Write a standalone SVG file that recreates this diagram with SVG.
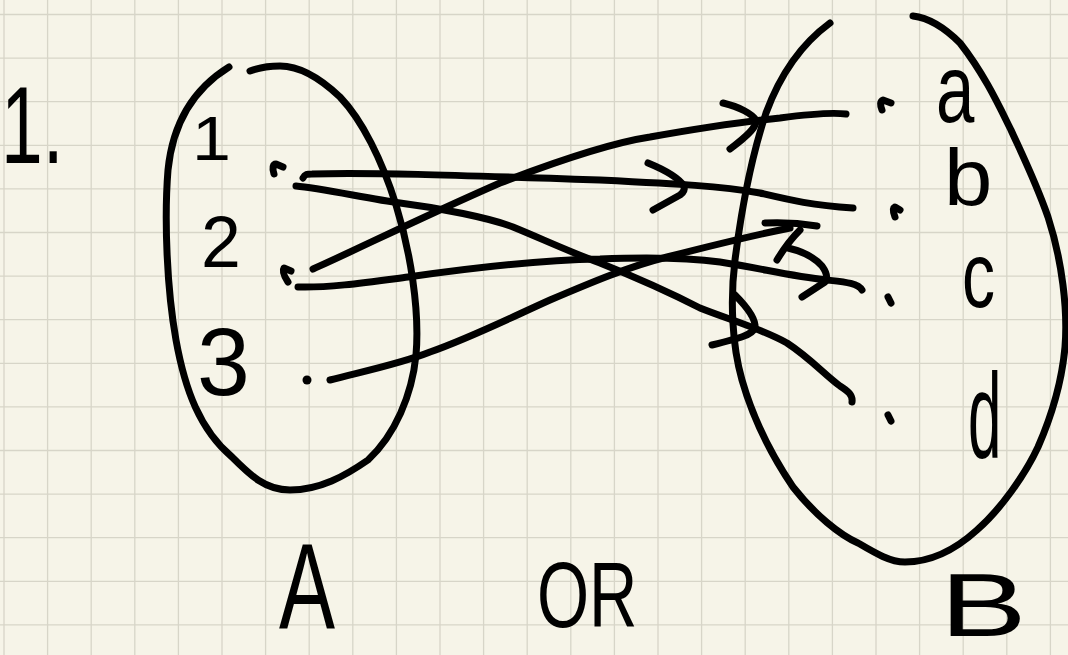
<svg xmlns="http://www.w3.org/2000/svg" width="1068" height="655" viewBox="0 0 1068 655">
<style>
.ink{fill:none;stroke:#000;stroke-width:7;stroke-linecap:round;stroke-linejoin:round}
.h{font-family:"Liberation Sans",Arial,sans-serif;font-size:100px;fill:#000}
.dot{fill:#000}
</style>
<rect width="1068" height="655" fill="#f6f4e8"/>
<path fill="none" stroke="#d7d5c8" stroke-width="1.3" d="M4,0V655M47.6,0V655M91.2,0V655M134.8,0V655M178.4,0V655M222,0V655M265.6,0V655M309.2,0V655M352.8,0V655M396.4,0V655M440,0V655M483.6,0V655M527.2,0V655M570.8,0V655M614.4,0V655M658,0V655M701.6,0V655M745.2,0V655M788.8,0V655M832.4,0V655M876,0V655M919.6,0V655M963.2,0V655M1006.8,0V655M1050.4,0V655M0,14.5H1068M0,58.1H1068M0,101.7H1068M0,145.3H1068M0,188.9H1068M0,232.5H1068M0,276.1H1068M0,319.7H1068M0,363.3H1068M0,406.9H1068M0,450.5H1068M0,494.1H1068M0,537.7H1068M0,581.3H1068M0,624.9H1068"/>

<g id="title">
<text class="h" transform="translate(1,163) scale(0.75,1.09)">1.</text>
</g>

<g id="set-A">
<path class="ink" d="M229,67 C195,88 173,120 168,170 C164,220 167,290 176,340 C185,390 200,430 232,457 C250,475 265,490 290,490 C320,490 345,476 368,460 C395,435 412,395 416,355 C420,310 410,250 396,205 C382,160 362,120 340,97 C320,78 300,66 280,66 C268,66 258,68 250,71"/>
<text class="h" transform="translate(279,629) scale(0.84,1.23)">A</text>
</g>

<g id="elem-1">
<text class="h" transform="translate(192,160) scale(0.7,0.628)">1</text>
<path class="ink" d="M274,174 C272,168 273,164 276,164 L283,167"/>
</g>
<g id="elem-2">
<text class="h" transform="translate(201,267) scale(0.716,0.715)">2</text>
<path class="ink" d="M288,282 C284,276 282,271 284,268 L291,271"/>
</g>
<g id="elem-3">
<text class="h" transform="translate(197,395) scale(0.95,0.97)">3</text>
<circle class="dot" cx="307" cy="380" r="4.5"/>
</g>

<g id="set-B">
<path class="ink" d="M830,23 C800,45 780,75 766,113 C752,155 742,205 735,260 C730,300 732,345 742,380 C752,415 768,450 793,487 C815,515 840,535 858,543 C875,553 890,562 905,562 C930,562 955,550 977,530 C1000,510 1025,475 1038,447 C1052,415 1062,380 1065,347 C1068,310 1062,260 1048,217 C1035,180 1020,150 1011,130 C1000,108 985,75 960,43 C945,28 930,18 913,16"/>
<text class="h" transform="translate(940,636) scale(1.3,0.89)">B</text>
</g>

<g id="elem-a">
<text class="h" transform="translate(936,122) scale(0.69,0.96)">a</text>
<path class="ink" d="M882,110 C880,105 880,101 883,100 L891,103"/>
</g>
<g id="elem-b">
<text class="h" transform="translate(944,205) scale(0.87,0.8)">b</text>
<path class="ink" d="M895,217 C893,212 893,208 895,207 L900,210"/>
</g>
<g id="elem-c">
<text class="h" transform="translate(962,307) scale(0.66,0.93)">c</text>
<path class="ink" d="M888,297 L891,303"/>
</g>
<g id="elem-d">
<text class="h" transform="translate(968,457) scale(0.6,1.2)">d</text>
<path class="ink" d="M888,415 L891,421"/>
</g>

<g id="or-label">
<text class="h" transform="translate(537,627) scale(0.67,0.93)">OR</text>
</g>

<g id="connectors">
<path class="ink" d="M303,178 C305,174 307,174 312,174 C360,172 450,175 600,180 C680,184 720,186 760,193 C790,200 810,205 853,208"/>
<path class="ink" d="M648,163 C665,170 678,177 684,186 C685,190 683,193 680,195 L653,210"/>
<path class="ink" d="M296,186 C320,188 370,199 400,203 C440,208 490,218 513,227 C540,238 570,252 600,263 C630,275 665,290 700,308 C730,320 760,328 787,343 C810,358 825,375 840,386 C848,391 853,395 852,402"/>
<path class="ink" d="M735,295 C748,308 756,320 755,328 C752,335 740,338 712,345"/>
<path class="ink" d="M313,269 C360,248 420,218 500,183 C560,160 610,143 650,137 C700,128 740,122 780,118 C810,114 830,112 846,114"/>
<path class="ink" d="M723,103 C740,107 752,114 756,120 C757,126 750,134 730,149"/>
<path class="ink" d="M298,287 C330,288 370,282 408,277 C470,268 540,260 600,259 C650,257 690,258 720,262 C760,268 790,276 827,280 C845,282 858,283 862,290"/>
<path class="ink" d="M788,248 C805,252 815,258 822,266 C827,273 828,278 825,282 L802,297"/>
<path class="ink" d="M330,380 C360,372 400,364 430,352 C470,338 510,318 550,300 C590,283 630,266 667,257 C710,246 750,236 790,228"/>
<path class="ink" d="M765,223 C785,222 805,224 817,226"/>
<path class="ink" d="M800,230 C790,240 783,250 777,260"/>
</g>
</svg>
